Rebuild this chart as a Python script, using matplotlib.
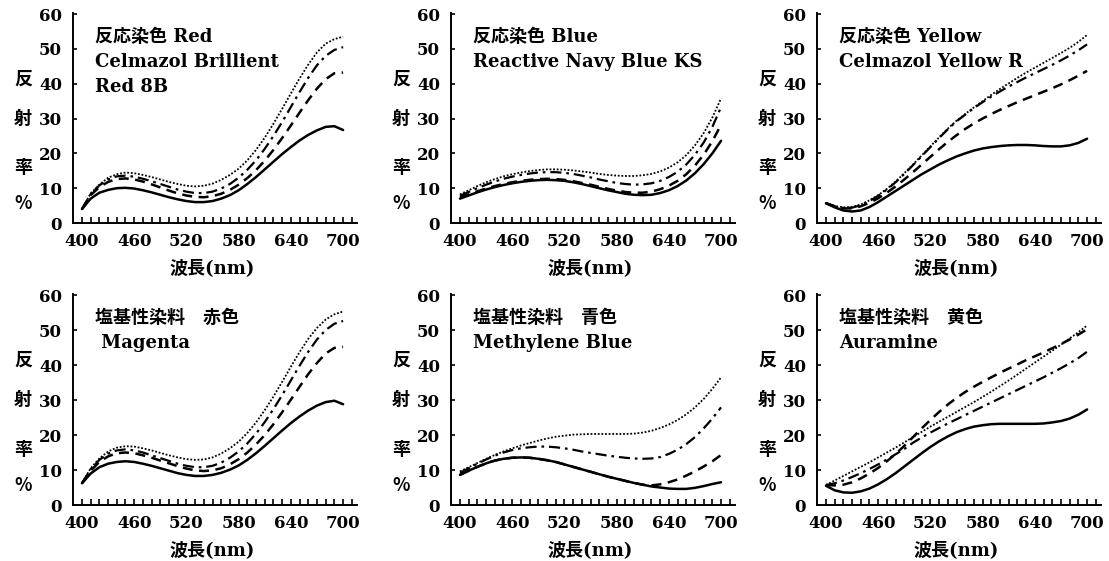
import numpy as np
import matplotlib
matplotlib.use("Agg")
import matplotlib.pyplot as plt
from matplotlib.ticker import FixedLocator

plt.rcParams['font.family'] = ['DejaVu Serif', 'Noto Sans CJK JP']

# Wavelength grid (nm)
wavelength = list(range(400, 701, 10))

# --- 反応染色 Red : Celmazol Brillient Red 8B ---
red_solid = [4.0, 7.0, 8.7, 9.5, 10.0, 10.1, 9.9, 9.4, 8.8, 8.1, 7.4, 6.8, 6.3, 6.0, 6.0, 6.3,
             7.0, 8.0, 9.4, 11.2, 13.2, 15.4, 17.6, 19.8, 21.8, 23.7, 25.3, 26.6, 27.6, 27.8, 26.7]
red_dashed = [4.0, 8.0, 10.3, 11.8, 12.6, 12.8, 12.5, 11.9, 11.1, 10.2, 9.3, 8.5, 7.9, 7.5, 7.4, 7.7,
              8.4, 9.5, 11.0, 12.9, 15.2, 17.9, 21.0, 24.4, 28.0, 31.7, 35.3, 38.6, 41.3, 43.0, 43.2]
red_dashdot = [4.0, 8.3, 10.8, 12.5, 13.4, 13.6, 13.3, 12.7, 12.0, 11.2, 10.4, 9.6, 9.0, 8.6, 8.6, 9.0,
               9.9, 11.2, 13.0, 15.3, 18.0, 21.3, 25.0, 29.0, 33.3, 37.6, 41.7, 45.3, 48.0, 49.7, 50.5]
red_dotted = [4.0, 8.5, 11.0, 13.0, 14.0, 14.5, 14.3, 13.8, 13.2, 12.5, 11.8, 11.2, 10.7, 10.5, 10.7, 11.3,
              12.4, 13.8, 15.6, 18.0, 21.0, 24.5, 28.5, 32.8, 37.2, 41.5, 45.5, 49.0, 51.5, 52.8, 53.5]

# --- 反応染色 Blue : Reactive Navy Blue KS ---
blue_solid = [7.0, 7.9, 8.8, 9.6, 10.3, 10.9, 11.4, 11.8, 12.1, 12.3, 12.4, 12.3, 12.1, 11.7, 11.2, 10.6,
              10.0, 9.4, 8.9, 8.4, 8.1, 8.0, 8.1, 8.6, 9.4, 10.6, 12.2, 14.3, 16.9, 20.0, 23.6]
blue_dashed = [7.3, 8.2, 9.1, 9.9, 10.6, 11.2, 11.7, 12.1, 12.4, 12.6, 12.7, 12.6, 12.4, 12.0, 11.5, 11.0,
               10.4, 9.8, 9.3, 8.9, 8.7, 8.7, 9.0, 9.7, 10.7, 12.1, 14.0, 16.5, 19.6, 23.5, 28.2]
blue_dashdot = [7.8, 8.9, 10.0, 11.0, 11.9, 12.7, 13.3, 13.8, 14.2, 14.5, 14.6, 14.6, 14.4, 14.1, 13.6, 13.1,
                12.5, 12.0, 11.5, 11.2, 11.0, 11.1, 11.4, 12.1, 13.2, 14.7, 16.8, 19.6, 23.1, 27.6, 33.3]
blue_dotted = [8.2, 9.4, 10.6, 11.7, 12.6, 13.4, 14.0, 14.5, 14.9, 15.2, 15.4, 15.4, 15.3, 15.1, 14.8, 14.5,
               14.1, 13.8, 13.6, 13.5, 13.5, 13.7, 14.1, 14.8, 15.9, 17.4, 19.5, 22.3, 25.8, 30.3, 35.8]

# --- 反応染色 Yellow : Celmazol Yellow R ---
yellow_solid = [5.7, 4.5, 3.6, 3.3, 3.6, 4.6, 6.0, 7.6, 9.2, 10.8, 12.4, 14.0, 15.4, 16.8, 18.0, 19.1,
                20.0, 20.8, 21.4, 21.8, 22.1, 22.3, 22.4, 22.4, 22.3, 22.1, 22.0, 22.0, 22.3, 23.0, 24.2]
yellow_dashed = [5.7, 4.8, 4.2, 4.2, 4.8, 5.8, 7.1, 8.7, 10.5, 12.5, 14.6, 16.8, 19.0, 21.2, 23.3, 25.2,
                 27.0, 28.6, 30.0, 31.3, 32.5, 33.6, 34.7, 35.7, 36.7, 37.7, 38.7, 39.8, 41.0, 42.3, 43.7]
yellow_dashdot = [5.7, 4.7, 4.3, 4.4, 5.1, 6.3, 7.8, 9.6, 11.7, 14.1, 16.6, 19.2, 21.8, 24.4, 26.9, 29.2,
                  31.1, 33.0, 34.7, 36.3, 37.8, 39.2, 40.5, 41.8, 43.0, 44.2, 45.4, 46.7, 48.1, 49.6, 51.3]
yellow_dotted = [5.7, 4.9, 4.5, 4.6, 5.3, 6.5, 8.0, 9.8, 11.9, 14.3, 16.8, 19.4, 22.0, 24.6, 27.1, 29.4,
                 31.3, 33.2, 35.0, 36.8, 38.5, 40.1, 41.7, 43.2, 44.6, 46.0, 47.4, 48.8, 50.3, 52.0, 54.0]

# --- 塩基性染料 赤色 : Magenta ---
magenta_solid = [6.2, 9.0, 10.8, 11.8, 12.3, 12.5, 12.3, 11.8, 11.2, 10.5, 9.8, 9.1, 8.6, 8.3, 8.3, 8.6,
                 9.2, 10.1, 11.3, 12.9, 14.8, 16.9, 19.1, 21.3, 23.4, 25.3, 27.0, 28.4, 29.4, 29.8, 28.8]
magenta_dashed = [6.2, 9.8, 12.3, 13.9, 14.8, 15.0, 14.8, 14.2, 13.5, 12.7, 11.9, 11.1, 10.4, 9.9, 9.7, 9.9,
                  10.5, 11.6, 13.1, 15.0, 17.3, 20.0, 23.1, 26.5, 30.1, 33.8, 37.4, 40.6, 43.3, 44.9, 45.2]
magenta_dashdot = [6.2, 10.2, 12.9, 14.7, 15.6, 15.9, 15.6, 15.0, 14.2, 13.4, 12.6, 11.8, 11.2, 10.8, 10.8, 11.2,
                   12.1, 13.5, 15.3, 17.6, 20.4, 23.7, 27.4, 31.4, 35.6, 39.8, 43.8, 47.3, 50.0, 51.8, 52.6]
magenta_dotted = [6.2, 10.5, 13.3, 15.3, 16.4, 16.8, 16.7, 16.2, 15.6, 14.9, 14.2, 13.6, 13.1, 12.9, 13.0, 13.6,
                  14.7, 16.2, 18.1, 20.6, 23.6, 27.1, 31.0, 35.2, 39.5, 43.7, 47.5, 50.6, 53.0, 54.5, 55.3]

# --- 塩基性染料 青色 : Methylene Blue ---
methylene_solid = [8.6, 9.8, 10.9, 11.9, 12.7, 13.2, 13.5, 13.6, 13.5, 13.2, 12.8, 12.3, 11.6, 10.9, 10.2, 9.5,
                   8.8, 8.1, 7.5, 6.9, 6.3, 5.8, 5.3, 5.0, 4.7, 4.6, 4.6, 4.9, 5.4, 6.0, 6.5]
methylene_dashed = [8.6, 9.8, 10.9, 11.9, 12.7, 13.2, 13.5, 13.6, 13.5, 13.2, 12.8, 12.3, 11.6, 10.9, 10.2, 9.5,
                    8.8, 8.1, 7.5, 6.9, 6.3, 5.8, 5.6, 5.9, 6.5, 7.3, 8.4, 9.6, 11.0, 12.5, 14.3]
methylene_dashdot = [9.2, 10.5, 11.8, 13.0, 14.1, 15.0, 15.7, 16.2, 16.5, 16.7, 16.7, 16.5, 16.2, 15.8, 15.3, 14.9,
                     14.5, 14.1, 13.8, 13.5, 13.3, 13.2, 13.3, 13.7, 14.6, 15.8, 17.4, 19.4, 21.9, 24.7, 27.9]
methylene_dotted = [9.6, 10.8, 12.0, 13.2, 14.3, 15.3, 16.2, 17.0, 17.7, 18.4, 19.0, 19.5, 19.8, 20.1, 20.2, 20.3,
                    20.3, 20.3, 20.3, 20.3, 20.4, 20.7, 21.2, 22.0, 23.0, 24.3, 25.9, 27.9, 30.3, 33.2, 36.5]

# --- 塩基性染料 黄色 : Auramine ---
auramine_solid = [5.5, 4.2, 3.6, 3.5, 3.9, 4.7, 5.9, 7.4, 9.1, 11.0, 12.9, 14.8, 16.6, 18.2, 19.6, 20.8,
                  21.7, 22.4, 22.8, 23.1, 23.2, 23.2, 23.2, 23.2, 23.2, 23.3, 23.6, 24.0, 24.7, 25.8, 27.3]
auramine_dashed = [5.7, 5.6, 5.8, 6.5, 7.6, 9.0, 10.6, 12.5, 14.6, 16.9, 19.4, 21.9, 24.3, 26.6, 28.7, 30.6,
                   32.3, 33.8, 35.2, 36.5, 37.8, 39.0, 40.2, 41.4, 42.5, 43.6, 44.8, 46.0, 47.3, 48.7, 50.2]
auramine_dashdot = [5.7, 6.2, 7.0, 8.0, 9.1, 10.3, 11.6, 13.0, 14.5, 16.0, 17.8, 19.3, 20.7, 22.0, 23.3, 24.5,
                    25.7, 26.9, 28.1, 29.3, 30.5, 31.7, 32.9, 34.1, 35.3, 36.5, 37.8, 39.1, 40.5, 42.0, 43.8]
auramine_dotted = [5.7, 7.0, 8.3, 9.6, 10.9, 12.2, 13.6, 15.0, 16.4, 17.9, 19.4, 20.9, 22.4, 23.8, 25.2, 26.6,
                   28.0, 29.4, 30.9, 32.4, 34.0, 35.6, 37.3, 39.0, 40.7, 42.4, 44.1, 45.8, 47.6, 49.4, 51.3]

# Panel captions
titles = [
    ["反応染色 Red", "Celmazol Brillient", "Red 8B"],
    ["反応染色 Blue", "Reactive Navy Blue KS"],
    ["反応染色 Yellow", "Celmazol Yellow R"],
    ["塩基性染料　赤色", " Magenta"],
    ["塩基性染料　青色", "Methylene Blue"],
    ["塩基性染料　黄色", "Auramine"],
]
xticks = [400, 460, 520, 580, 640, 700]
yticks = [0, 10, 20, 30, 40, 50, 60]
ylabel_chars = ["反", "射", "率", "%"]
ylabel_pos = [41.3, 30.1, 15.8, 5.7]
xlabel = "波長(nm)"

panels = [
    (red_solid, red_dashed, red_dashdot, red_dotted),
    (blue_solid, blue_dashed, blue_dashdot, blue_dotted),
    (yellow_solid, yellow_dashed, yellow_dashdot, yellow_dotted),
    (magenta_solid, magenta_dashed, magenta_dashdot, magenta_dotted),
    (methylene_solid, methylene_dashed, methylene_dashdot, methylene_dotted),
    (auramine_solid, auramine_dashed, auramine_dashdot, auramine_dotted),
]

styles = [
    dict(linestyle='-', linewidth=1.8),
    dict(linestyle=(0, (4.0, 2.6)), linewidth=1.8),
    dict(linestyle=(0, (5.0, 2.2, 1.2, 2.2)), linewidth=1.6),
    dict(linestyle=(0, (1.0, 1.0)), linewidth=1.3),
]

W, H = 1109, 561
fig = plt.figure(figsize=(W / 100, H / 100), dpi=100)

# axes boxes in pixels: (left, bottom_y, top_y)
lefts = [73, 451, 817]
rows = [(223, 13), (505, 294)]
ax_w = 284

for i, series in enumerate(panels):
    r, c = divmod(i, 3)
    bot, top = rows[r]
    ax = fig.add_axes([lefts[c] / W, 1 - bot / H, ax_w / W, (bot - top) / H])
    for ys, st in zip(series, styles):
        ax.plot(wavelength, ys, color='black', solid_capstyle='round',
                dash_capstyle='butt', **st)
    ax.set_xlim(389.7, 716)
    ax.set_ylim(0, 60.3)
    for s in ('top', 'right'):
        ax.spines[s].set_visible(False)
    for s in ('left', 'bottom'):
        ax.spines[s].set_linewidth(1.4)
    ax.set_xticks(xticks)
    ax.xaxis.set_minor_locator(FixedLocator(list(range(400, 711, 10))))
    ax.set_yticks(yticks)
    ax.tick_params(axis='x', which='both', direction='in', length=4, width=1.2,
                   pad=7, labelsize=12)
    ax.tick_params(axis='y', which='major', direction='in', length=3, width=1.2,
                   pad=8, labelsize=12)
    for lab in ax.get_xticklabels() + ax.get_yticklabels():
        lab.set_fontweight('bold')
    # vertical y-axis label, one character per line
    for ch, yp in zip(ylabel_chars, ylabel_pos):
        ax.annotate(ch, xy=(0, yp), xycoords=('axes fraction', 'data'),
                    xytext=(-36, 0), textcoords='offset points',
                    ha='center', va='center', fontsize=13, fontweight='bold',
                    family=['Noto Sans CJK JP', 'DejaVu Sans'])
    ax.set_xlabel(xlabel, fontsize=13, fontweight='bold', labelpad=3,
                  family=['DejaVu Serif', 'Noto Sans CJK JP'])
    ax.xaxis.set_label_coords((550 - 389.7) / (716 - 389.7), -0.172)
    # caption
    for k, line in enumerate(titles[i]):
        ax.text(415, 53.4 - 7.2 * k, line, fontsize=13, fontweight='bold',
                ha='left', va='center',
                family=['DejaVu Serif', 'Noto Sans CJK JP'])

fig.savefig('out.png', dpi=100)
